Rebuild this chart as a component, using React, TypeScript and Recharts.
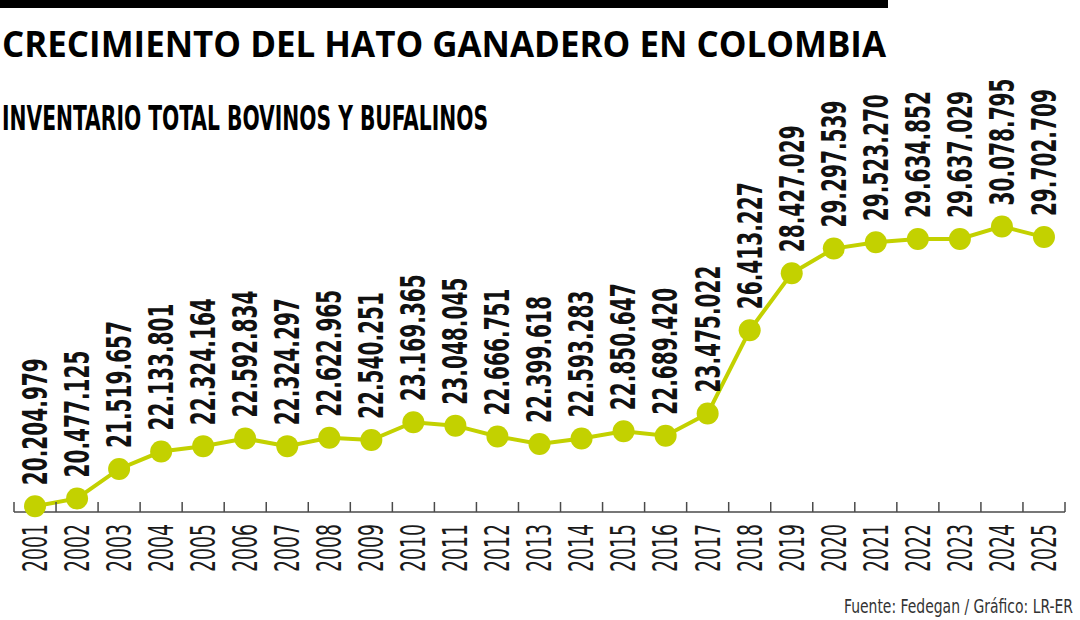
import React from 'react';
import { LineChart, Line, XAxis, YAxis, LabelList } from 'recharts';

const YEARS = [
  2001, 2002, 2003, 2004, 2005, 2006, 2007, 2008, 2009, 2010, 2011, 2012, 2013,
  2014, 2015, 2016, 2017, 2018, 2019, 2020, 2021, 2022, 2023, 2024, 2025,
];
const HEADS = [
  20204979, 20477125, 21519657, 22133801, 22324164, 22592834, 22324297, 22622965,
  22540251, 23169365, 23048045, 22666751, 22399618, 22593283, 22850647, 22689420,
  23475022, 26413227, 28427029, 29297539, 29523270, 29634852, 29637029, 30078795,
  29702709,
];
const BAND_EDGES = [...YEARS.map((y) => y - 0.5), YEARS[YEARS.length - 1] + 0.5];

const TITLE = 'CRECIMIENTO DEL HATO GANADERO EN COLOMBIA';
const SUBTITLE = 'INVENTARIO TOTAL BOVINOS Y BUFALINOS';
const SOURCE = 'Fuente: Fedegan / Gráfico: LR-ER';

const data = YEARS.map((year, i) => ({ year, value: HEADS[i] }));

const GREEN = '#c3d100';
const NARROW =
  '"Liberation Sans Narrow", "DejaVu Sans Condensed", "Roboto Condensed", "Noto Sans", sans-serif';

const fmt = (v: number) => String(v).replace(/\B(?=(\d{3})+(?!\d))/g, '.');

const ValueLabel = (props: any) => {
  const { x, y, value } = props;
  if (x == null || y == null) return null;
  const ty = y - 21;
  return (
    <text
      x={x}
      y={ty}
      transform={`rotate(-90 ${x} ${ty})`}
      dy="0.36em"
      textAnchor="start"
      fontFamily={NARROW}
      fontWeight={700}
      fontSize={33}
      fill="#111"
      textLength={127}
      lengthAdjust="spacingAndGlyphs"
    >
      {fmt(Number(value))}
    </text>
  );
};

const YearTick = (props: any) => {
  const { x, y, payload } = props;
  return (
    <text
      x={x}
      y={y}
      transform={`rotate(-90 ${x} ${y})`}
      dy="0.36em"
      textAnchor="end"
      fontFamily={NARROW}
      fontWeight={400}
      fontSize={33}
      fill="#1a1a1a"
      textLength={48}
      lengthAdjust="spacingAndGlyphs"
    >
      {payload.value}
    </text>
  );
};

const NoTick = () => <g />;

export default function App() {
  return (
    <div
      style={{
        position: 'absolute',
        left: 0,
        top: 0,
        width: 1080,
        height: 620,
        background: '#fff',
        overflow: 'hidden',
      }}
    >
      <LineChart
        width={1080}
        height={620}
        data={data}
        margin={{ top: 172, right: 15, bottom: 48, left: 14 }}
      >
        <YAxis type="number" hide domain={[20000000, 32000000]} />
        <XAxis
          xAxisId={0}
          type="number"
          dataKey="year"
          domain={[BAND_EDGES[0], BAND_EDGES[BAND_EDGES.length - 1]]}
          ticks={BAND_EDGES}
          interval={0}
          mirror
          height={1}
          tick={<NoTick />}
          tickSize={10}
          tickLine={{ stroke: '#4a4a4a', strokeWidth: 1.5 }}
          axisLine={{ stroke: '#4a4a4a', strokeWidth: 1.5 }}
        />
        <XAxis
          xAxisId="labels"
          type="number"
          dataKey="year"
          domain={[BAND_EDGES[0], BAND_EDGES[BAND_EDGES.length - 1]]}
          ticks={YEARS}
          interval={0}
          height={60}
          axisLine={false}
          tickLine={false}
          tickSize={0}
          tickMargin={12}
          tick={<YearTick />}
        />
        <Line
          xAxisId={0}
          type="linear"
          dataKey="value"
          stroke={GREEN}
          strokeWidth={4}
          dot={{ r: 11, fill: GREEN, stroke: GREEN, strokeWidth: 0 }}
          activeDot={false}
          isAnimationActive={false}
        >
          <LabelList dataKey="value" content={<ValueLabel />} />
        </Line>
      </LineChart>
      <svg
        width={1080}
        height={620}
        style={{ position: 'absolute', left: 0, top: 0, pointerEvents: 'none' }}
      >
        <rect x={0} y={0} width={888} height={8} fill="#000" />
        <text
          x={2}
          y={57}
          fontFamily='"Open Sans", "Noto Sans", sans-serif'
          fontWeight={700}
          fontSize={36}
          fill="#000"
          textLength={884}
          lengthAdjust="spacingAndGlyphs"
        >
          {TITLE}
        </text>
        <text
          x={2}
          y={130}
          fontFamily={NARROW}
          fontWeight={700}
          fontSize={33}
          fill="#000"
          textLength={486}
          lengthAdjust="spacingAndGlyphs"
        >
          {SUBTITLE}
        </text>
        <text
          x={1073}
          y={613}
          textAnchor="end"
          fontFamily={NARROW}
          fontWeight={400}
          fontSize={20}
          fill="#333"
          textLength={229}
          lengthAdjust="spacingAndGlyphs"
        >
          {SOURCE}
        </text>
      </svg>
    </div>
  );
}
